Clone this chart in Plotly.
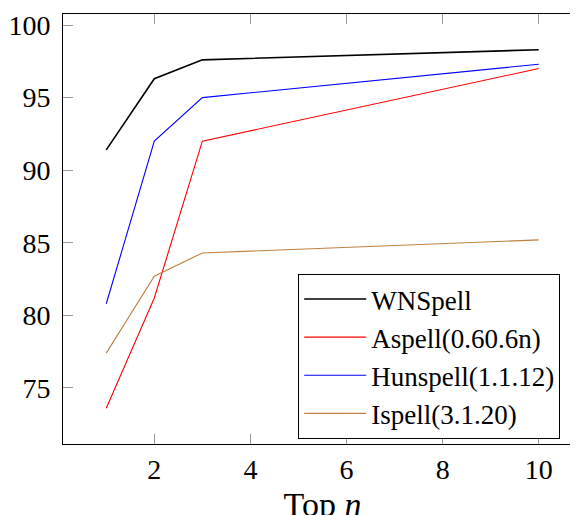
import plotly.graph_objects as go

top_n = [1, 2, 3, 10]
wnspell = [91.4, 96.3, 97.6, 98.3]
aspell = [73.6, 81.2, 92.0, 97.0]
hunspell = [80.8, 92.0, 95.0, 97.3]
ispell = [77.4, 82.7, 84.3, 85.2]

series = [
    ("WNSpell", wnspell, "#000000", 1.6),
    ("Aspell(0.60.6n)", aspell, "#FF0000", 1.1),
    ("Hunspell(1.1.12)", hunspell, "#0000FF", 1.1),
    ("Ispell(3.1.20)", ispell, "#BF8040", 1.1),
]

fig = go.Figure()
for name, vals, color, w in series:
    fig.add_trace(go.Scatter(x=top_n, y=vals, mode="lines", name=name,
                             line=dict(color=color, width=w)))

serif = "Liberation Serif"
font = dict(family=serif, size=28, color="#000")

fig.update_layout(
    width=578, height=515,
    margin=dict(l=55, r=4, t=6, b=79),
    paper_bgcolor="white", plot_bgcolor="white",
    font=font,
    showlegend=True,
    legend=dict(x=0.958, y=0.2035, xanchor="right", yanchor="middle",
                bordercolor="#000", borderwidth=1, bgcolor="white",
                font=dict(family=serif, size=27),
                tracegroupgap=0, itemwidth=62),
    xaxis=dict(range=[0.1, 10.9], tickvals=[2, 4, 6, 8, 10],
               showgrid=False, zeroline=False, automargin=False,
               showline=True, linecolor="#000", linewidth=1, mirror="ticks",
               ticks="inside", ticklen=10, tickcolor="#999", tickwidth=1,
               title=dict(text="Top <i>n</i>", standoff=8)),
    yaxis=dict(range=[71.14, 100.76], tickvals=[75, 80, 85, 90, 95, 100],
               showgrid=False, zeroline=False, automargin=False,
               showline=True, linecolor="#000", linewidth=1, mirror="ticks",
               ticks="inside", ticklen=10, tickcolor="#999", tickwidth=1,
               ticklabelstandoff=6),
)

fig.write_html("out.html")
